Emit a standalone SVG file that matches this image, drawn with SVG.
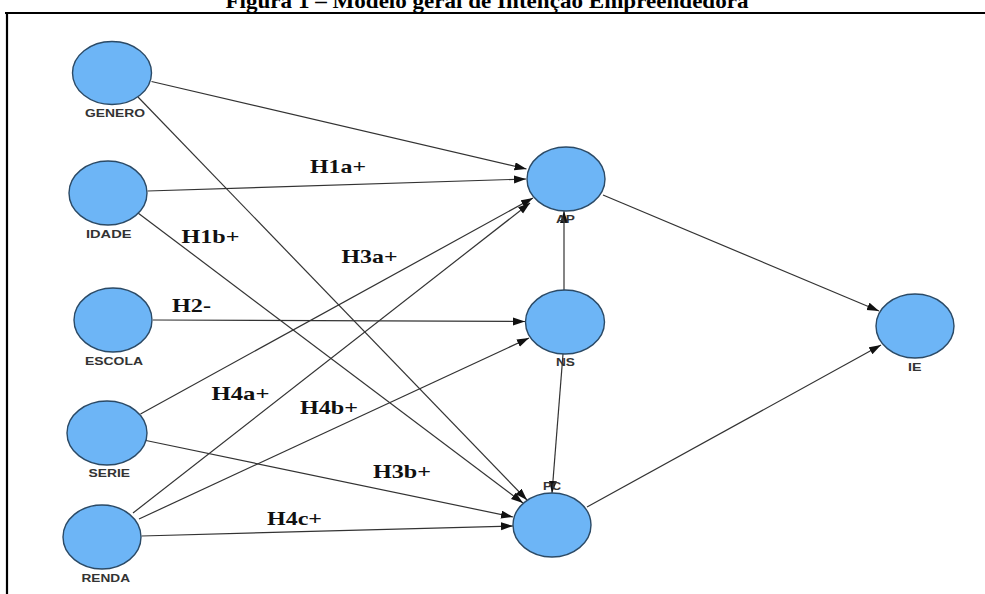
<svg xmlns="http://www.w3.org/2000/svg" width="985" height="594" viewBox="0 0 985 594">
<defs>
<marker id="arr" markerUnits="userSpaceOnUse" markerWidth="13" markerHeight="9" refX="12" refY="4" orient="auto">
<path d="M0,0 L12,4 L0,8 z" fill="#111"/>
</marker>
<style>
.n{fill:#6db5f6;stroke:#2b4a66;stroke-width:1.4}
.nl{font-family:"Liberation Sans",Arial,sans-serif;font-weight:bold;font-size:11.5px;fill:#333}
.e{stroke:#333;stroke-width:1.2;fill:none;marker-end:url(#arr)}
.h{font-family:"Liberation Serif","Times New Roman",serif;font-weight:bold;font-size:19px;fill:#111}
</style>
</defs>
<rect width="985" height="594" fill="#fff"/>
<text x="487" y="7.5" text-anchor="middle" font-family="Liberation Serif, Times New Roman, serif" font-weight="bold" font-size="22" textLength="523" lengthAdjust="spacingAndGlyphs">Figura 1 – Modelo geral de Intenção Empreendedora</text>
<path d="M5,13 H985 M7,13 V594" stroke="#000" stroke-width="2.2" fill="none"/>
<g id="connectors">
<line class="e" x1="151.5" y1="81.5" x2="526.5" y2="169"/>
<line class="e" x1="138" y1="97" x2="527" y2="500"/>
<line class="e" x1="147.5" y1="191" x2="526" y2="179"/>
<line class="e" x1="138" y1="213" x2="523" y2="503"/>
<line class="e" x1="153" y1="320" x2="525" y2="321.5"/>
<line class="e" x1="140.5" y1="414" x2="533" y2="198"/>
<line class="e" x1="146" y1="440.5" x2="513" y2="517"/>
<line class="e" x1="133" y1="513" x2="530" y2="203"/>
<line class="e" x1="139" y1="519" x2="529" y2="338"/>
<line class="e" x1="141.5" y1="536" x2="513" y2="526"/>
<line class="e" x1="564" y1="290" x2="564" y2="211"/>
<line class="e" x1="563" y1="354" x2="552" y2="493"/>
<line class="e" x1="603" y1="195" x2="879" y2="311"/>
<line class="e" x1="587" y1="507" x2="881" y2="345"/>
</g>
<g id="labels">
<text class="h" x="310" y="173" textLength="56" lengthAdjust="spacingAndGlyphs">H1a+</text>
<text class="h" x="181.5" y="242.5" textLength="58" lengthAdjust="spacingAndGlyphs">H1b+</text>
<text class="h" x="341.5" y="262.5" textLength="56" lengthAdjust="spacingAndGlyphs">H3a+</text>
<text class="h" x="172" y="311.5" textLength="39" lengthAdjust="spacingAndGlyphs">H2-</text>
<text class="h" x="211.5" y="400" textLength="58" lengthAdjust="spacingAndGlyphs">H4a+</text>
<text class="h" x="300" y="414" textLength="58" lengthAdjust="spacingAndGlyphs">H4b+</text>
<text class="h" x="373" y="478" textLength="58" lengthAdjust="spacingAndGlyphs">H3b+</text>
<text class="h" x="267" y="525" textLength="55" lengthAdjust="spacingAndGlyphs">H4c+</text>
</g>
<g id="GENERO"><ellipse class="n" cx="112" cy="73" rx="39.5" ry="31.5"/><text class="nl" x="85" y="116.5" textLength="60" lengthAdjust="spacingAndGlyphs">GENERO</text></g>
<g id="IDADE"><ellipse class="n" cx="108" cy="193" rx="39" ry="32"/><text class="nl" x="86" y="237.5" textLength="45.5" lengthAdjust="spacingAndGlyphs">IDADE</text></g>
<g id="ESCOLA"><ellipse class="n" cx="113" cy="320" rx="39" ry="32"/><text class="nl" x="85" y="365" textLength="58" lengthAdjust="spacingAndGlyphs">ESCOLA</text></g>
<g id="SERIE"><ellipse class="n" cx="107" cy="433" rx="40" ry="32"/><text class="nl" x="88.5" y="477.3" textLength="41.5" lengthAdjust="spacingAndGlyphs">SERIE</text></g>
<g id="RENDA"><ellipse class="n" cx="102" cy="537" rx="39" ry="32"/><text class="nl" x="81.5" y="581.7" textLength="48.5" lengthAdjust="spacingAndGlyphs">RENDA</text></g>
<g id="AP"><ellipse class="n" cx="566" cy="179" rx="39" ry="32"/><text class="nl" x="556" y="222.7" textLength="19" lengthAdjust="spacingAndGlyphs">AP</text></g>
<g id="NS"><ellipse class="n" cx="565" cy="322" rx="39.5" ry="32"/><text class="nl" x="556" y="366" textLength="19" lengthAdjust="spacingAndGlyphs">NS</text></g>
<g id="PC"><ellipse class="n" cx="552" cy="525" rx="39" ry="32"/><text class="nl" x="543" y="490" textLength="18" lengthAdjust="spacingAndGlyphs">PC</text></g>
<g id="IE"><ellipse class="n" cx="915" cy="326" rx="39" ry="32"/><text class="nl" x="908" y="371" textLength="13.5" lengthAdjust="spacingAndGlyphs">IE</text></g>
</svg>
